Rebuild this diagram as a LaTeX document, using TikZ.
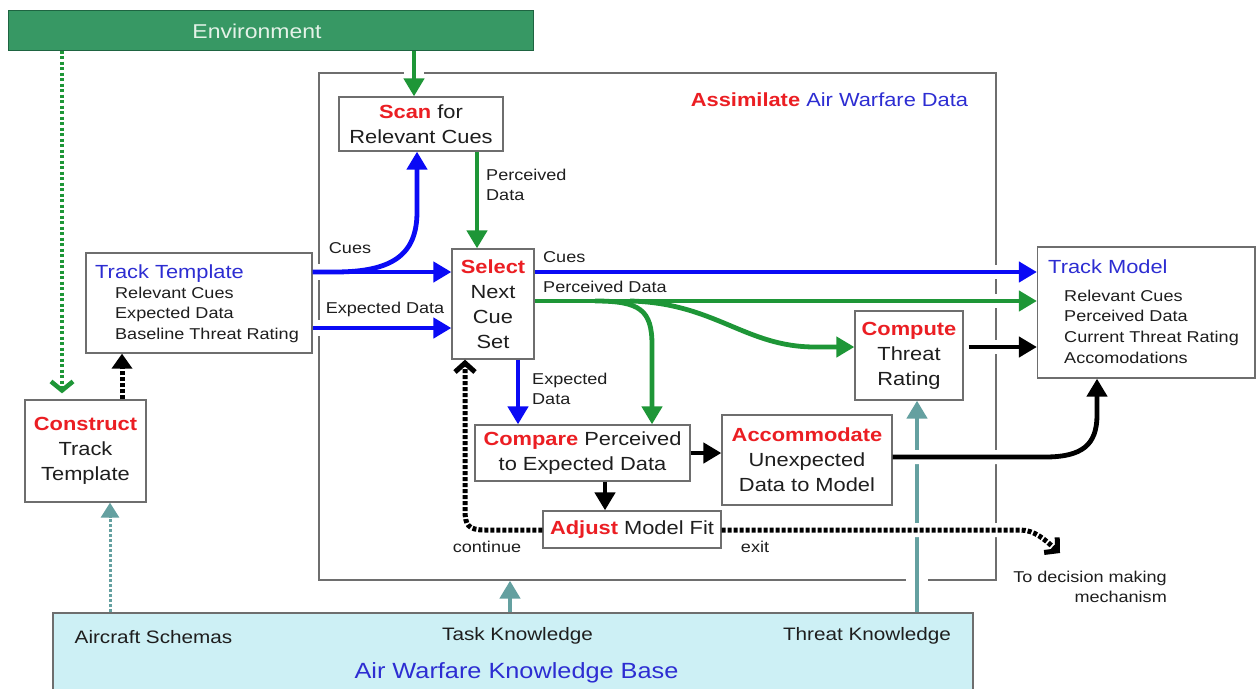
\documentclass[tikz,border=0pt]{standalone}
\usepackage{fontspec}
\setmainfont{Liberation Sans}[FakeStretch=1.15]
\usetikzlibrary{arrows.meta}
\definecolor{kred}{RGB}{235,30,35}
\definecolor{kblue}{RGB}{10,10,245}
\definecolor{tblue}{RGB}{45,45,210}
\definecolor{kgreen}{RGB}{30,150,55}
\definecolor{envgreen}{RGB}{55,152,100}
\definecolor{envdark}{RGB}{30,100,65}
\definecolor{envtext}{RGB}{228,242,232}
\definecolor{kteal}{RGB}{100,160,160}
\definecolor{kbcyan}{RGB}{205,240,245}
\definecolor{boxgray}{RGB}{110,110,110}
\definecolor{ink}{RGB}{30,30,30}
\newcommand{\mainfs}{\fontsize{19}{25}\selectfont}
\newcommand{\smallfs}{\fontsize{15.7}{20.5}\selectfont}
\newcommand{\kbfs}{\fontsize{18}{22}\selectfont}
\newcommand{\rb}[1]{\textcolor{kred}{\textbf{#1}}}
\tikzset{
  box/.style={draw=boxgray, line width=1.3pt, fill=white, align=center, inner sep=0pt, font=\mainfs, text=ink},
  lbl/.style={font=\smallfs, inner sep=0pt, text=ink},
  arr/.style={line width=4.8pt, -{Triangle[length=18pt,width=20pt]}},
  blu/.style={arr, draw=kblue},
  grn/.style={arr, draw=kgreen},
  blk/.style={arr, draw=black},
  tls/.style={arr, draw=kteal},
  halo/.style={preaction={draw=white, line width=#1, -, shorten <=3pt, shorten >=3pt}},
  halo/.default=14pt,
  gdot/.style={draw=kgreen, line width=4.5pt, dash pattern=on 3pt off 2.5pt, -{Straight Barb[length=9pt,width=22pt]}},
  kdot/.style={draw=black, line width=5pt, dash pattern=on 4pt off 2pt},
  tdot/.style={draw=kteal, line width=3pt, dash pattern=on 3pt off 2pt, -{Triangle[length=15pt,width=18pt]}}
}
\begin{document}
\begin{tikzpicture}[x=1pt,y=-1pt]
\useasboundingbox (0,0) rectangle (1257,688);
\clip (0,0) rectangle (1257,688);

% reference coordinates
\coordinate (yC) at (0,272);
\coordinate (yE) at (0,328);
\coordinate (yP) at (0,301);
\coordinate (yT) at (0,347);
\coordinate (yA) at (0,457);
\coordinate (yD) at (0,530);

% containers
\node[draw=boxgray, line width=1.3pt, minimum width=677pt, minimum height=507pt, inner sep=0pt] (assim) at (657.5,326.5) {};
\node[font=\mainfs, inner sep=0pt] (assimtxt) at (829.5,100) {\rb{Assimilate} \textcolor{tblue}{Air Warfare Data}};

\node[draw=envdark, line width=1pt, fill=envgreen, minimum width=525pt, minimum height=40pt, inner sep=0pt] (env) at (270.5,30) {};
\node[font=\fontsize{20}{24}\selectfont, text=envtext, inner sep=0pt] (envtxt) at (257,31) {Environment};

\node[draw=boxgray, line width=1.3pt, fill=kbcyan, minimum width=920pt, minimum height=90pt, inner sep=0pt] (kb) at (513,658) {};
\node[font=\kbfs, text=ink, inner sep=0pt] (kb1) at (153.5,637) {Aircraft Schemas};
\node[font=\kbfs, text=ink, inner sep=0pt] (kb2) at (517.5,636) {Task Knowledge};
\node[font=\kbfs, text=ink, inner sep=0pt] (kb3) at (867,636) {Threat Knowledge};
\node[font=\fontsize{22}{26}\selectfont, text=tblue, inner sep=0pt] (kbt) at (516.5,673) {Air Warfare Knowledge Base};

% process boxes
\node[box, minimum width=164pt, minimum height=54pt] (scan) at (421,124) {\rb{Scan} for\\Relevant Cues};
\node[box, minimum width=82pt, minimum height=110pt] (select) at (493,304) {\rb{Select}\\Next\\Cue\\Set};
\node[box, minimum width=121pt, minimum height=102pt] (construct) at (85.5,451) {\rb{Construct}\\Track\\Template};
\node[box, minimum width=108pt, minimum height=89pt] (compute) at (909,355.5) {\rb{Compute}\\Threat\\Rating};
\node[box, minimum width=215pt, minimum height=56pt] (compare) at (582.5,453) {\rb{Compare} Perceived\\to Expected Data};
\node[box, minimum width=170pt, minimum height=90pt] (accom) at (807,460) {\rb{Accommodate}\\Unexpected\\Data to Model};
\node[box, minimum width=178pt, minimum height=37pt] (adjust) at (632,529.5) {\rb{Adjust} Model Fit};

\node[box, minimum width=226pt, minimum height=100pt] (tt) at (199,303) {};
\node[font=\mainfs, text=tblue, anchor=base west, inner sep=0pt] (tt1) at (95,278.8) {Track Template};
\node[lbl, anchor=base west] (tt2) at (115,298.6) {Relevant Cues};
\node[lbl, anchor=base west] (tt3) at (115,318.6) {Expected Data};
\node[lbl, anchor=base west] (tt4) at (115,339.6) {Baseline Threat Rating};

\node[box, minimum width=217.5pt, minimum height=131pt] (tm) at (1146.25,312.5) {};
\node[font=\mainfs, text=tblue, anchor=base west, inner sep=0pt] (tm1) at (1048,273.8) {Track Model};
\node[lbl, anchor=base west] (tm2) at (1064,301.6) {Relevant Cues};
\node[lbl, anchor=base west] (tm3) at (1064,321.6) {Perceived Data};
\node[lbl, anchor=base west] (tm4) at (1064,342.6) {Current Threat Rating};
\node[lbl, anchor=base west] (tm5) at (1064,363.6) {Accomodations};

% x positions for vertical connectors
\coordinate (xES) at (414,0);
\coordinate (xGD) at (62,0);
\coordinate (xCT) at (122,0);
\coordinate (xKC) at (110,0);
\coordinate (xKA) at (510,0);
\coordinate (xKT) at (917,0);
\coordinate (xSC) at (417,0);
\coordinate (xSS) at (477,0);
\coordinate (xSE) at (518,0);
\coordinate (xGC) at (652,0);
\coordinate (xCA) at (605,0);
\coordinate (xAT) at (1097,0);
\coordinate (xCo) at (465,0);

% knowledge base links
\draw[tdot] (kb.north -| xKC) -- (construct.south -| xKC);
\draw[tls] (kb.north -| xKA) -- (assim.south -| xKA);
\draw[tls, halo=22pt] (kb.north -| xKT) -- (compute.south -| xKT);

% environment links
\draw[grn, halo=20pt] (env.south -| xES) -- (scan.north -| xES);
\draw[gdot, shorten >=6pt] (env.south -| xGD) -- (construct.north -| xGD);

% construct -> track template
\draw[kdot, -{Triangle[length=15pt,width=20pt]}] (construct.north -| xCT) -- (tt.south -| xCT);

% track template -> select
\draw[blu, halo=16pt] (tt.east |- yC) -- (select.west |- yC);
\draw[blu] (tt.east |- yC) -- (335,272) .. controls (392,272) and (417,255) .. (417,212) -- (scan.south -| xSC);
\node[lbl] (lcues1) at (350,248) {Cues};
\draw[blu, halo=16pt] (tt.east |- yE) -- (select.west |- yE);
\node[lbl] (lexp1) at (385,309) {Expected Data};

% scan -> select
\draw[grn] (scan.south -| xSS) -- (select.north -| xSS);
\node[lbl, align=left, anchor=west] (lperc1) at (486,185) {Perceived\\Data};

% select -> track model
\draw[blu, halo] (select.east |- yC) -- (tm.west |- yC);
\node[lbl, anchor=west] (lcues2) at (543,257) {Cues};
\draw[grn, halo] (select.east |- yP) -- (tm.west |- yP);
\node[lbl, anchor=west] (lperc2) at (543,287) {Perceived Data};

% green branches
\draw[grn] (595,301) .. controls (640,301) and (652,310) .. (652,345) -- (compare.north -| xGC);
\draw[grn] (630,301) .. controls (715,303) and (745,347) .. (815,347) -- (compute.west |- yT);

% select -> compare
\draw[blu] (select.south -| xSE) -- (compare.north -| xSE);
\node[lbl, align=left, anchor=west] (lexp2) at (532,389) {Expected\\Data};

% compare -> accommodate / adjust
\draw[blk] (compare.east) -- (accom.west |- compare.east);
\draw[blk] (compare.south -| xCA) -- (adjust.north -| xCA);

% compute -> track model
\draw[blk, halo, shorten <=5pt] (compute.east |- yT) -- (tm.west |- yT);

% accommodate -> track model
\draw[blk, halo] (accom.east |- yA) -- (1045,457) .. controls (1082,457) and (1097,445) .. (1097,415) -- (tm.south -| xAT);

% adjust: continue / exit
\draw[kdot, -{Straight Barb[length=9pt,width=20pt]}] (adjust.west |- yD) -- (485,530) .. controls (468,530) and (465,525) .. (465,510) -- (select.south -| xCo);
\node[lbl] (lcont) at (487,547) {continue};
\coordinate (exitend) at (1060,553);
\draw[kdot, halo, -{Straight Barb[length=9pt,width=20pt]}] (adjust.east |- yD) -- (1020,530) .. controls (1035,530) and (1045,540) .. (exitend);
\node[lbl] (lexit) at (755,547) {exit};
\node[lbl, align=right, anchor=east] (ldec) at (1167,587) {To decision making\\mechanism};
\end{tikzpicture}
\end{document}
